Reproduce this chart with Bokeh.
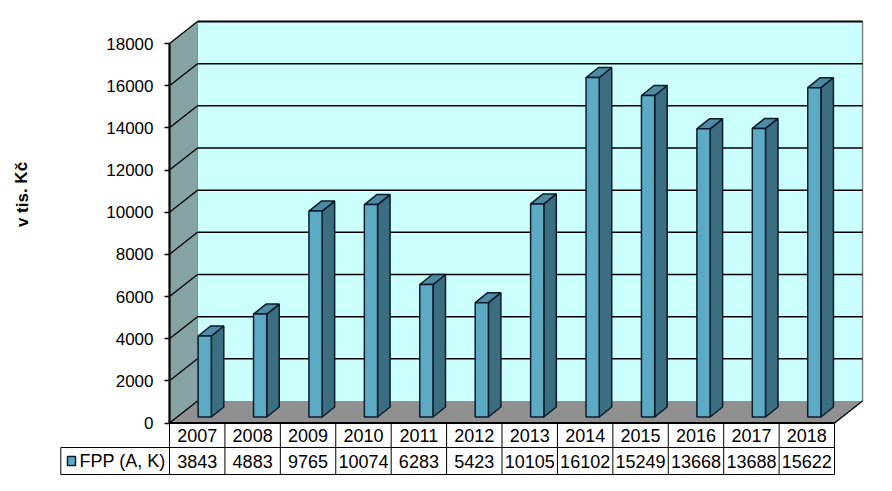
from bokeh.plotting import figure
from bokeh.models import LinearAxis, FixedTicker, Range1d
from bokeh.core.properties import value
from bokeh.embed import file_html
from bokeh.resources import INLINE

years = ["2007","2008","2009","2010","2011","2012","2013","2014","2015","2016","2017","2018"]
fpp = [3843,4883,9765,10074,6283,5423,10105,16102,15249,13668,13688,15622]
ticks = [0,2000,4000,6000,8000,10000,12000,14000,16000,18000]
series_name = "FPP (A, K)"
y_title = "v tis. Kč"

W, H = 876, 480
PX_X0, PX_CAT = 169.0, 55.42      # image px of category axis origin, px per category
PX_Y0, PX_VAL = 422.5, 379.5/18000 # image px of zero, px per value
dx = lambda px: px / PX_CAT
dy = lambda px: px / PX_VAL

x_range = Range1d((0-PX_X0)/PX_CAT, (W-PX_X0)/PX_CAT)
y_range = Range1d((PX_Y0-H)/PX_VAL, (PX_Y0)/PX_VAL)
p = figure(width=W, height=H, x_range=x_range, y_range=y_range, output_backend="svg",
           toolbar_location=None, x_axis_location=None, y_axis_location=None,
           min_border=0, outline_line_color=None, background_fill_color="white")
p.grid.visible = False

n = len(years)
DX, DY = dx(28), dy(22)
top = ticks[-1]
FONT = value("Liberation Sans")

# walls and floor
p.patch([DX, n+DX, n+DX, DX], [DY, DY, top+DY, top+DY], fill_color="#CCFFFF", line_color=None)
p.patch([0, DX, DX, 0], [0, DY, top+DY, top], fill_color="#86A3A3", line_color=None)
p.patch([0, n, n+DX, DX], [0, 0, DY, DY], fill_color="#909090", line_color=None)
p.line([DX, DX], [DY, top+DY], line_color="#7F8F8F", line_width=1)
p.line([n+DX, n+DX], [DY, top+DY], line_color="#808080", line_width=1.5)

# gridlines
for t in ticks[1:]:
    w = 2.2 if t == top else 1.5
    p.line([DX, n+DX], [t+DY, t+DY], line_color="#000000", line_width=w)
    p.line([0, DX], [t, t+DY], line_color="#000000", line_width=1.3)
p.line([0, DX], [0, DY], line_color="#000000", line_width=1.3)
p.line([n, n+DX], [0, DY], line_color="#000000", line_width=1.3)

# 3D bars
BL, BW = dx(28.6), dx(13.2)
BDX, BDY = dx(12.5), dy(10)
BASE = dy(6)
EDGE = "#0B1B2B"
for i, v in enumerate(fpp):
    x0 = i + BL
    x1 = x0 + BW
    yt = v + BASE
    p.patch([x1, x1+BDX, x1+BDX, x1], [BASE, BASE+BDY, yt+BDY, yt],
            fill_color="#3A6E80", line_color=EDGE, line_width=1.5)
    p.patch([x0, x1, x1+BDX, x0+BDX], [yt, yt, yt+BDY, yt+BDY],
            fill_color="#4E8BA2", line_color=EDGE, line_width=1.5)
    p.patch([x0, x1, x1, x0], [BASE, BASE, yt, yt],
            fill_color="#5DAAC4", line_color=EDGE, line_width=1.5)

# y axis
ax = LinearAxis(fixed_location=0, ticker=FixedTicker(ticks=ticks), bounds=(0, top))
ax.axis_line_color = "#000000"
ax.axis_line_width = 2.2
ax.major_tick_line_color = "#000000"
ax.major_tick_line_width = 1.3
ax.major_tick_out = 5
ax.major_tick_in = 0
ax.minor_tick_out = 0
ax.minor_tick_in = 0
ax.major_label_standoff = 11
ax.major_label_text_font = "Liberation Sans"
ax.major_label_text_font_size = "17px"
ax.major_label_text_color = "#000000"
ax.formatter.use_scientific = False
p.add_layout(ax, "left")

# data table
R1, R2 = -dy(24.5), -dy(51.5)
LEFT = dx(60.3 - PX_X0)
p.line([0, n], [0, 0], line_color="#000000", line_width=2.2)
p.line([LEFT, n], [R1, R1], line_color="#000000", line_width=1)
p.line([LEFT, n], [R2, R2], line_color="#000000", line_width=1)
p.line([LEFT, LEFT], [R1, R2], line_color="#000000", line_width=1)
for i in range(n + 1):
    p.line([i, i], [0, R2], line_color="#000000", line_width=1)
xs = [i + 0.5 for i in range(n)]
p.text(xs, [R1/2]*n, text=years, text_font=FONT, text_font_size="18px", text_align="center",
       text_baseline="middle", text_color="#000000")
p.text(xs, [(R1+R2)/2]*n, text=[str(v) for v in fpp], text_font=FONT, text_font_size="18px",
       text_align="center", text_baseline="middle", text_color="#000000")
KX, KS = dx(67 - PX_X0), dx(8)
KY0, KY1 = -dy(33.5), -dy(42.5)
p.patch([KX, KX+KS, KX+KS, KX], [KY0, KY0, KY1, KY1], fill_color="#5DAAC4", line_color=EDGE, line_width=1.5)
p.text([dx(79 - PX_X0)], [(R1+R2)/2], text=[series_name], text_font=FONT, text_font_size="18px",
       text_align="left", text_baseline="middle", text_color="#000000")

# axis title
p.text([dx(21.5 - PX_X0)], [dy(PX_Y0 - 194)], text=[y_title], angle=1.5708, text_font=FONT,
       text_font_size="17px", text_font_style="bold", text_align="center", text_baseline="middle",
       text_color="#000000")

open("out.html", "w").write(file_html(p, INLINE))
